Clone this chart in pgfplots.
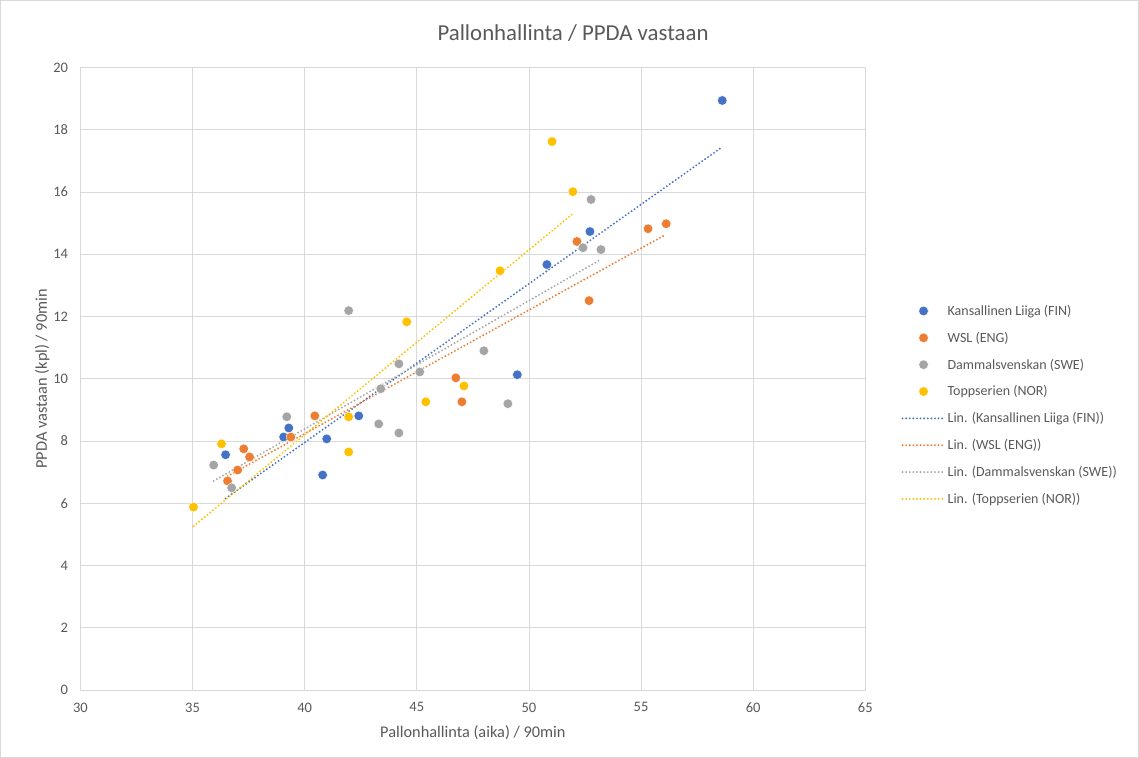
\documentclass[border=0pt]{standalone}
\usepackage{pgfplots}
\usepackage{pgfplotstable}
\pgfplotsset{compat=1.18}
\usetikzlibrary{calc}
\usepackage{fontspec}
\setmainfont{Carlito}
\definecolor{cfin}{HTML}{4472C4}
\definecolor{ceng}{HTML}{ED7D31}
\definecolor{cswe}{HTML}{A5A5A5}
\definecolor{cnor}{HTML}{FFC000}
\definecolor{gridc}{HTML}{D9D9D9}
\definecolor{txt}{HTML}{595959}
\pgfplotsset{
  markleg/.style={legend image code/.code={\draw[##1] plot coordinates {(21bp,0bp)};}},
  lineleg/.style={legend image code/.code={\draw[##1] plot coordinates {(0bp,0bp) (42bp,0bp)};}},
}

\pgfplotstableread{
x y
36.47 7.56
39.06 8.13
39.29 8.42
40.80 6.91
40.98 8.07
42.41 8.81
49.48 10.13
50.80 13.67
52.72 14.73
58.62 18.94
}\tblfin
\pgfplotstableread{
x y
36.56 6.72
37.01 7.07
37.28 7.75
37.54 7.49
39.38 8.13
40.45 8.81
46.74 10.03
47.01 9.26
52.14 14.41
52.68 12.51
55.31 14.82
56.12 14.98
}\tbleng
\pgfplotstableread{
x y
35.94 7.23
36.74 6.50
39.20 8.78
41.96 12.19
43.30 8.55
43.39 9.68
44.20 10.48
44.20 8.26
45.13 10.22
47.99 10.90
49.06 9.20
52.41 14.21
52.77 15.76
53.21 14.15
}\tblswe
\pgfplotstableread{
x y
35.04 5.88
36.29 7.91
41.96 8.78
41.96 7.65
44.55 11.83
45.40 9.26
47.10 9.77
48.71 13.47
51.03 17.62
51.96 16.01
}\tblnor

\begin{document}
\begin{tikzpicture}
\begin{axis}[
  name=ax,
  scale only axis,
  width=784bp, height=622bp,
  xmin=30, xmax=65, ymin=0, ymax=20,
  xtick={30,35,...,65}, ytick={0,2,...,20},
  grid=major,
  major grid style={draw=gridc, line width=0.8bp},
  axis line style={draw=gridc, line width=0.8bp},
  major tick length=0pt,
  tick label style={font=\fontsize{14.5bp}{17bp}\selectfont, text=txt},
  /pgf/number format/assume math mode=true,
  xticklabel style={yshift=-9bp},
  yticklabel style={xshift=-8.9bp},
  xlabel={Pallonhallinta (aika) / 90min},
  ylabel={PPDA vastaan (kpl) / 90min},
  label style={font=\fontsize{16.3bp}{19bp}\selectfont, text=txt},
  xlabel style={at={(axis description cs:0.5,-0.0514)}, anchor=north},
  ylabel style={at={(axis description cs:-0.0351,0.5)}, anchor=south, rotate=0},
  title={Pallonhallinta / PPDA vastaan},
  title style={at={(0.6276,1)}, anchor=south, yshift=16bp, font=\fontsize{22.8bp}{27bp}\selectfont, text=txt},
  legend style={at={(1.042,0.458)}, anchor=west, draw=none, fill=none,
    font=\fontsize{14bp}{17bp}\selectfont, text=txt, row sep=11.1bp,
    /tikz/every even column/.append style={column sep=3bp}},
  legend cell align=left,
  trend/.style={line width=2.1bp, dash pattern=on 0pt off 3.6bp, line cap=round},
]
\addplot[only marks, mark=*, mark size=4.8bp, draw=white, line width=0.4bp, fill=cfin, markleg] table[x=x,y=y] {\tblfin};
\addlegendentry{Kansallinen Liiga (FIN)}
\addplot[only marks, mark=*, mark size=4.8bp, draw=white, line width=0.4bp, fill=ceng, markleg] table[x=x,y=y] {\tbleng};
\addlegendentry{WSL (ENG)}
\addplot[only marks, mark=*, mark size=4.8bp, draw=white, line width=0.4bp, fill=cswe, markleg] table[x=x,y=y] {\tblswe};
\addlegendentry{Dammalsvenskan (SWE)}
\addplot[only marks, mark=*, mark size=4.8bp, draw=white, line width=0.4bp, fill=cnor, markleg] table[x=x,y=y] {\tblnor};
\addlegendentry{Toppserien (NOR)}
\addplot[cfin, trend, no marks, lineleg] table[x=x, y={create col/linear regression={y=y}}] {\tblfin};
\addlegendentry{Lin. (Kansallinen Liiga (FIN))}
\addplot[ceng, trend, no marks, lineleg] table[x=x, y={create col/linear regression={y=y}}] {\tbleng};
\addlegendentry{Lin. (WSL (ENG))}
\addplot[cswe, trend, no marks, lineleg] table[x=x, y={create col/linear regression={y=y}}] {\tblswe};
\addlegendentry{Lin. (Dammalsvenskan (SWE))}
\addplot[cnor, trend, no marks, lineleg] table[x=x, y={create col/linear regression={y=y}}] {\tblnor};
\addlegendentry{Lin. (Toppserien (NOR))}
\end{axis}
\draw[gridc, line width=0.8bp, use as bounding box]
  ($(ax.south west)+(-80bp,-67bp)$) rectangle ($(ax.south west)+(1057bp,689bp)$);
\end{tikzpicture}
\end{document}
